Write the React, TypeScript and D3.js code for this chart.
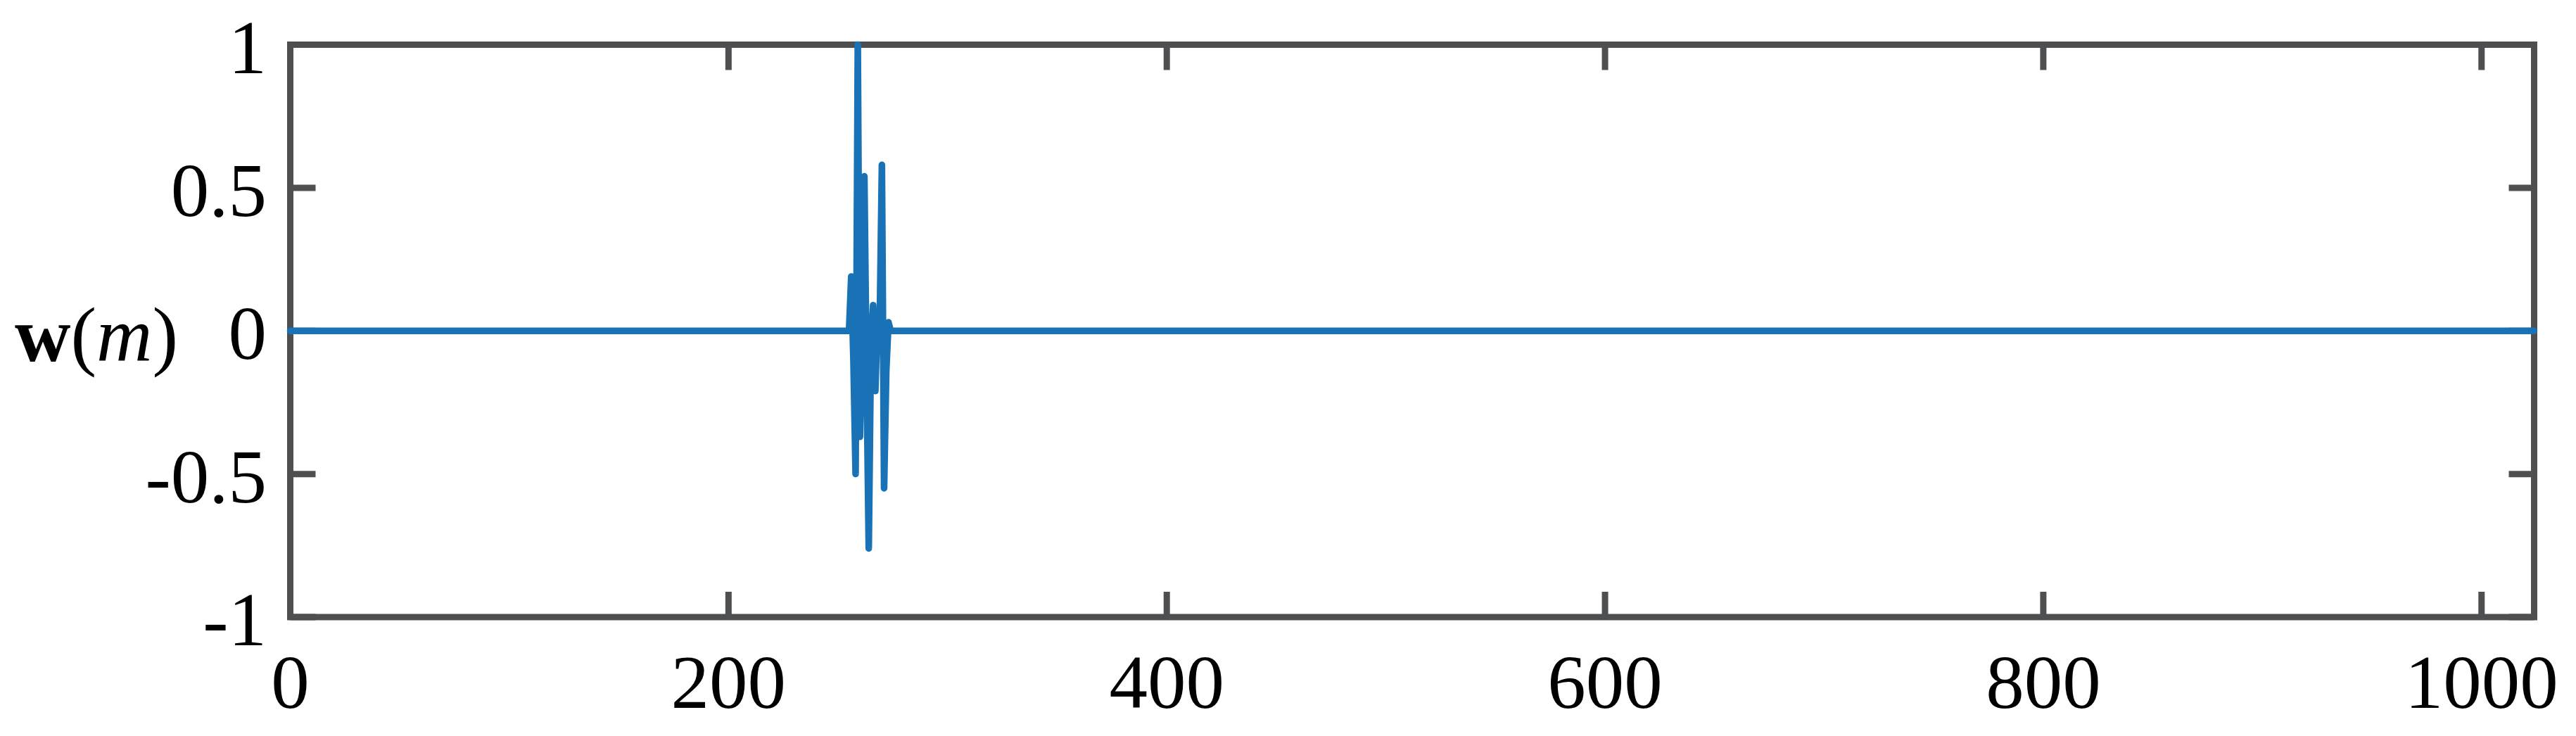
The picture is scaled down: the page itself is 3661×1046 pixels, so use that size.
import React from "react";
import * as d3 from "d3";

// ---- data ----
const xDomain: [number, number] = [0, 1024];
const yDomain: [number, number] = [-1, 1];
const xTicks = [0, 200, 400, 600, 800, 1000];
const xTickLabels = ["0", "200", "400", "600", "800", "1000"];
const yTicks = [-1, -0.5, 0, 0.5, 1];
const yTickLabels = ["-1", "-0.5", "0", "0.5", "1"];
const sampleCount = 1025; // m = 0 ... 1024, zero outside the burst
const burstStart = 255;
const burstValues = [
  0, 0.19, -0.1, -0.5, 1.0, -0.37, 0.05, 0.54, -0.15, -0.76,
  -0.05, 0.09, -0.21, 0.04, 0.02, 0.58, -0.55, -0.14, 0.03, 0,
];

const W = 3661;
const H = 1046;
const left = 412.5;
const right = 3601.5;
const top = 63.5;
const bottom = 877;

const axisColor = "#4e4f51";
const lineColor = "#1872b5";
const font = "'Liberation Serif', 'Times New Roman', serif";

export default function App() {
  const x = d3.scaleLinear().domain(xDomain).range([left, right]);
  const y = d3.scaleLinear().domain(yDomain).range([bottom, top]);

  const signal: [number, number][] = [];
  for (let m = 0; m < sampleCount; m++) {
    const k = m - burstStart;
    const v = k >= 0 && k < burstValues.length ? burstValues[k] : 0;
    signal.push([m, v]);
  }
  const line = d3
    .line<[number, number]>()
    .x((d) => x(d[0]))
    .y((d) => y(d[1]));

  const tickLen = 36;

  return (
    <svg
      width={W}
      height={H}
      viewBox={`0 0 ${W} ${H}`}
      style={{ position: "absolute", left: 0, top: 0, background: "#fff" }}
    >
      <rect x={0} y={0} width={W} height={H} fill="#fff" />
      {/* box */}
      <rect
        x={left}
        y={top}
        width={right - left}
        height={bottom - top}
        fill="none"
        stroke={axisColor}
        strokeWidth={9}
      />
      {/* x ticks */}
      {xTicks.map((t) => (
        <g key={"xt" + t}>
          <line x1={x(t)} x2={x(t)} y1={bottom} y2={bottom - tickLen} stroke={axisColor} strokeWidth={9} />
          <line x1={x(t)} x2={x(t)} y1={top} y2={top + tickLen} stroke={axisColor} strokeWidth={9} />
        </g>
      ))}
      {/* y ticks */}
      {yTicks.map((t) => (
        <g key={"yt" + t}>
          <line x1={left} x2={left + tickLen} y1={y(t)} y2={y(t)} stroke={axisColor} strokeWidth={9} />
          <line x1={right} x2={right - tickLen} y1={y(t)} y2={y(t)} stroke={axisColor} strokeWidth={9} />
        </g>
      ))}
      {/* x tick labels */}
      {xTicks.map((t, i) => (
        <text
          key={"xl" + t}
          x={x(t)}
          y={1006}
          textAnchor="middle"
          fontFamily={font}
          fontSize={109}
          fill="#000"
        >
          {xTickLabels[i]}
        </text>
      ))}
      {/* y tick labels */}
      {yTicks.map((t, i) => (
        <text
          key={"yl" + t}
          x={379}
          y={y(t) + 40}
          textAnchor="end"
          fontFamily={font}
          fontSize={109}
          fill="#000"
        >
          {yTickLabels[i]}
        </text>
      ))}
      {/* y axis label */}
      <text x={21} y={513} fontFamily={font} fontSize={110} fill="#000">
        <tspan fontWeight="bold">w</tspan>
        <tspan>(</tspan>
        <tspan fontStyle="italic">m</tspan>
        <tspan>)</tspan>
      </text>
      {/* signal */}
      <path
        d={line(signal) || ""}
        fill="none"
        stroke={lineColor}
        strokeWidth={9.5}
        strokeLinejoin="round"
        strokeLinecap="round"
      />
    </svg>
  );
}
